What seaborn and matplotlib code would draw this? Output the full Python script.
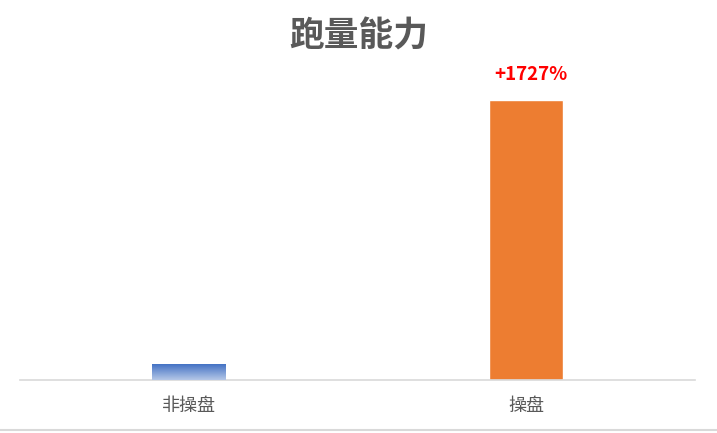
import matplotlib.pyplot as plt
import matplotlib.lines as mlines
import numpy as np
import seaborn as sns
import pandas as pd

categories = ['非操盘', '操盘']
values = [1.0, 18.27]
label_text = '+1727%'
title = '跑量能力'

sns.set_theme(style='white')
plt.rcParams['font.family'] = ['Noto Sans CJK SC', 'DejaVu Sans']

df = pd.DataFrame({'cat': categories, 'val': values})

fig = plt.figure(figsize=(7.17, 4.33), dpi=100)
ax = fig.add_axes([20 / 717, 53 / 433, 675 / 717, 321.5 / 433])

sns.barplot(data=df, x='cat', y='val', hue='cat', palette=['#4472C4', '#ED7D31'],
            width=0.219, legend=False, ax=ax, saturation=1)

# gradient fill on the blue bar
blue = ax.patches[0]
bx, by = blue.get_x(), blue.get_y()
bw, bh = blue.get_width(), blue.get_height()
grad = np.linspace(0, 1, 64).reshape(-1, 1)
top = np.array([0x44, 0x72, 0xC4]) / 255
bot = np.array([0xB4, 0xC7, 0xE7]) / 255
img = top + (bot - top) * grad[..., None]
ax.imshow(img, extent=[bx, bx + bw, by, by + bh], origin='upper', aspect='auto', zorder=3)
blue.set_alpha(0)

ax.set_xlim(-0.5, 1.5)
ax.set_ylim(0, 21)
ax.set_xlabel('')
ax.set_ylabel('')
ax.set_yticks([])
for s in ['top', 'left', 'right']:
    ax.spines[s].set_visible(False)
ax.spines['bottom'].set_color('#d9d9d9')
ax.spines['bottom'].set_linewidth(1.2)
ax.tick_params(axis='x', length=0, labelsize=13, labelcolor='#595959', pad=12)

ax.annotate(label_text, (1, values[1]), xytext=(3, 12), textcoords='offset points',
            ha='center', va='bottom', color='#FF0000', fontsize=13.5, fontweight='bold')

fig.text(0.5, 1 - 36 / 433, title, ha='center', va='center', fontsize=25,
         fontweight='bold', color='#595959')

fig.add_artist(mlines.Line2D([0, 1], [1 - 430 / 433] * 2, color='#d9d9d9', lw=1.5,
                             transform=fig.transFigure))

fig.savefig('out.png', dpi=100)
